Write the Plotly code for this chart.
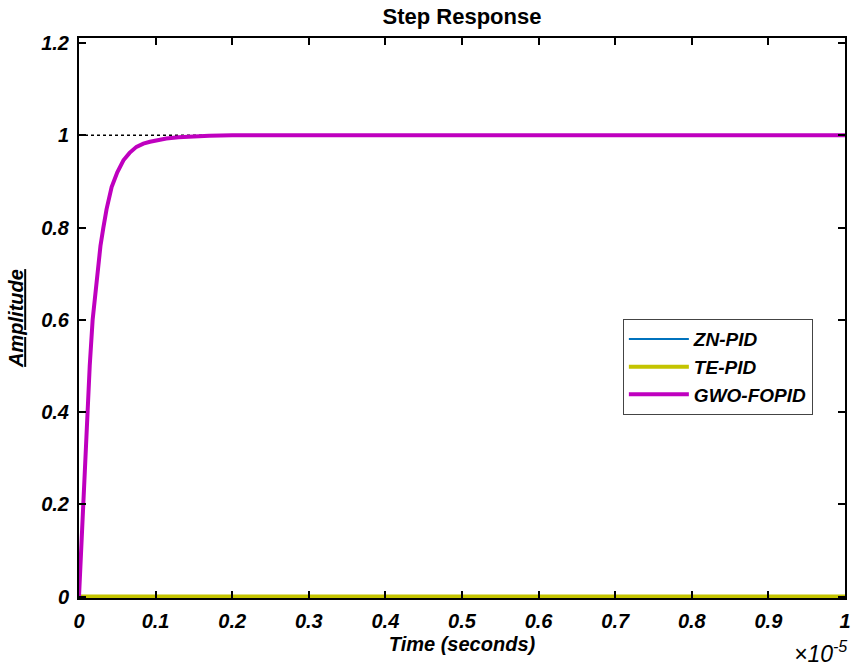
import plotly.graph_objects as go

# time in units of 1e-5 s
t_scaled = [0, 0.0028, 0.0056, 0.008, 0.0109, 0.014, 0.0178, 0.021, 0.025, 0.028,
            0.0318, 0.036, 0.0426, 0.05, 0.058, 0.066, 0.075, 0.084, 0.0927, 0.1,
            0.114, 0.13, 0.15, 0.17, 0.2, 0.3, 0.4, 0.5, 0.6, 0.7, 0.8, 0.9, 1.0]
gwo_fopid = [0, 0.11, 0.202, 0.30, 0.400, 0.50, 0.600, 0.65, 0.720, 0.76,
             0.800, 0.84, 0.888, 0.92, 0.946, 0.962, 0.975, 0.982, 0.986, 0.989,
             0.993, 0.996, 0.998, 0.999, 1.0, 1.0, 1.0, 1.0, 1.0, 1.0, 1.0, 1.0, 1.0]
zn_pid = [0, 0, 0, 0, 0, 0, 0, 0, 0, 0,
          0, 0, 0, 0, 0.0001, 0.0001, 0.0001, 0.0001, 0.0001, 0.0001,
          0.0001, 0.0001, 0.0001, 0.0001, 0.0001, 0.0002, 0.0002, 0.0002, 0.0003, 0.0003, 0.0003, 0.0004, 0.0004]
te_pid = [0, 0, 0, 0, 0, 0, 0, 0, 0, 0,
          0, 0, 0, 0, 0.0001, 0.0001, 0.0001, 0.0001, 0.0001, 0.0001,
          0.0001, 0.0001, 0.0001, 0.0001, 0.0001, 0.0002, 0.0002, 0.0002, 0.0003, 0.0003, 0.0003, 0.0004, 0.0004]
steady_state = [1.0, 1.0]
steady_t = [0, 1.0]

x_ticks = [0, 0.1, 0.2, 0.3, 0.4, 0.5, 0.6, 0.7, 0.8, 0.9, 1.0]
x_tick_text = ["0", "0.1", "0.2", "0.3", "0.4", "0.5", "0.6", "0.7", "0.8", "0.9", "1"]
y_ticks = [0, 0.2, 0.4, 0.6, 0.8, 1.0, 1.2]
y_tick_text = ["0", "0.2", "0.4", "0.6", "0.8", "1", "1.2"]

SCALE = 1e-5
t = [v * SCALE for v in t_scaled]

FONT = "Liberation Sans, Arial, sans-serif"

fig = go.Figure()
fig.add_trace(go.Scatter(x=[v * SCALE for v in steady_t], y=steady_state, mode="lines",
                         line=dict(color="black", width=1.5, dash="dot"),
                         showlegend=False, hoverinfo="skip"))
fig.add_trace(go.Scatter(x=t, y=zn_pid, mode="lines", name="ZN-PID",
                         line=dict(color="#0072BD", width=2)))
fig.add_trace(go.Scatter(x=t, y=te_pid, mode="lines", name="TE-PID",
                         line=dict(color="#C4C400", width=4)))
fig.add_trace(go.Scatter(x=t, y=gwo_fopid, mode="lines", name="GWO-FOPID",
                         line=dict(color="#BF00BF", width=4)))

tickfont = dict(family=FONT, size=20, color="black", weight="bold", style="italic")

fig.update_layout(
    width=853, height=668,
    margin=dict(l=79, r=8, t=38, b=70),
    paper_bgcolor="white", plot_bgcolor="white",
    title=dict(text="Step Response", x=0.5416, xanchor="center",
               y=1 - 16 / 668, yanchor="middle", yref="container",
               font=dict(family=FONT, size=22, color="black", weight="bold")),
    showlegend=True,
    legend=dict(x=0.710, y=0.498, xanchor="left", yanchor="top",
                bgcolor="white", bordercolor="#444444", borderwidth=1,
                font=dict(family=FONT, size=19, color="black", weight="bold", style="italic"),
                itemwidth=60, tracegroupgap=0),
    xaxis=dict(range=[0, 1e-5], tickvals=[v * SCALE for v in x_ticks], ticktext=x_tick_text,
               showgrid=False, zeroline=False, showline=True, linecolor="black", linewidth=2,
               mirror="ticks", ticks="inside", ticklen=7, tickwidth=2, tickcolor="black",
               tickfont=tickfont, ticklabelstandoff=4, automargin=False,
               title=dict(text="Time (seconds)", standoff=6,
                          font=dict(family=FONT, size=20, color="black", weight="bold", style="italic"))),
    yaxis=dict(range=[-0.003, 1.211], tickvals=y_ticks, ticktext=y_tick_text,
               showgrid=False, zeroline=False, showline=True, linecolor="black", linewidth=2,
               mirror="ticks", ticks="inside", ticklen=7, tickwidth=2, tickcolor="black",
               tickfont=tickfont, ticklabelstandoff=4, automargin=False,
               title=dict(text='<span style="text-decoration:underline">Amplitude</span>', standoff=12,
                          font=dict(family=FONT, size=20, color="black", weight="bold", style="italic"))),
)

fig.add_annotation(text="×10<sup>-5</sup>", xref="paper", yref="paper",
                   x=1.0, y=(598 - 652) / 560, xanchor="right", yanchor="middle",
                   xshift=4, showarrow=False,
                   font=dict(family=FONT, size=23, color="black", style="italic"))

fig.write_html("out.html")
